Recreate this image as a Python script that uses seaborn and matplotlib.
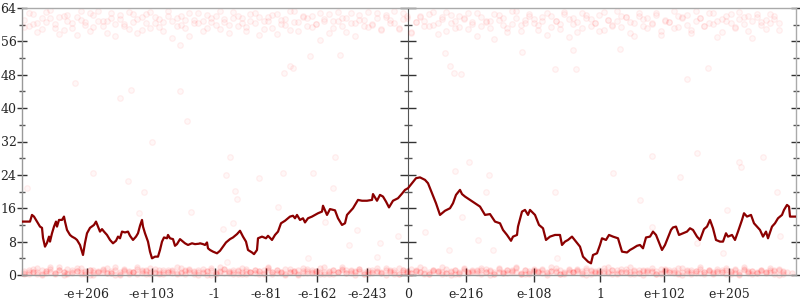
import numpy as np
import pandas as pd
import seaborn as sns
import matplotlib
matplotlib.use("Agg")
import matplotlib.pyplot as plt
from matplotlib.ticker import MultipleLocator

# ---------------- data ----------------
# x = ordered bucket index (0 = zero), y = value
line_x = [-386, -378, -376, -374, -371, -368, -366, -365, -363, -361, -359, -358, -356, -354, -352, -351,
          -349, -346, -344, -343, -341, -338, -336, -333, -331, -328, -326, -325, -323, -321, -318, -314,
          -312, -310, -308, -306, -304, -301, -298, -295, -292, -290, -288, -286, -283, -280, -278, -275,
          -272, -270, -268, -266, -265, -263, -260, -258, -256, -253, -250, -248, -246, -244, -241, -240,
          -238, -235, -233, -231, -228, -225, -223, -220, -216, -213, -209, -208, -205, -203, -201, -200,
          -198, -195, -191, -188, -185, -182, -178, -175, -171, -168, -165, -162, -160, -156, -154, -151,
          -150, -146, -142, -140, -136, -133, -130, -127, -123, -118, -115, -113, -111, -108, -105, -103,
          -100, -96, -93, -90, -86, -85, -81, -78, -73, -70, -66, -63, -61, -58, -55, -50, -46, -41, -36,
          -35, -31, -28, -25, -22, -19, -15, -10, -6, -3, 0, 4, 8, 12, 17, 20, 24, 28, 32, 37, 42, 45, 48,
          52, 54, 57, 62, 67, 72, 77, 82, 87, 92, 95, 99, 103, 105, 109, 110, 114, 117, 120, 122, 127, 131,
          135, 138, 142, 147, 152, 154, 157, 160, 164, 168, 172, 175, 180, 183, 185, 189, 192, 194, 198,
          201, 205, 210, 212, 214, 219, 222, 225, 229, 232, 235, 238, 242, 245, 248, 250, 254, 257, 259,
          263, 265, 268, 271, 275, 279, 282, 285, 289, 292, 296, 299, 302, 305, 308, 312, 315, 318, 320,
          324, 327, 330, 334, 336, 339, 343, 346, 349, 352, 355, 358, 360, 364, 367, 370, 374, 376, 379,
          381, 382, 388]
line_y = [12.8, 12.8, 14.4, 14.0, 12.8, 11.6, 11.3, 8.9, 6.8, 7.7, 9.2, 8.0, 10.0, 11.6, 12.8, 11.6,
          13.2, 13.2, 14.0, 12.8, 10.8, 9.6, 9.2, 8.8, 8.4, 7.2, 5.6, 4.8, 7.7, 10.0, 11.3, 12.0,
          12.8, 11.6, 10.4, 11.0, 10.4, 9.6, 8.4, 7.6, 8.2, 9.2, 8.8, 10.4, 10.2, 10.4, 9.4, 8.4,
          9.2, 10.0, 11.8, 13.2, 11.6, 10.0, 8.0, 5.6, 4.0, 4.4, 4.4, 6.0, 8.0, 9.0, 8.8, 9.6,
          8.8, 8.6, 7.0, 7.4, 8.6, 8.0, 7.6, 7.2, 7.6, 7.4, 7.5, 7.6, 7.4, 7.2, 7.8, 6.4,
          6.0, 5.6, 5.2, 5.8, 6.8, 7.8, 8.6, 9.0, 9.8, 10.6, 9.2, 8.0, 6.0, 5.4, 5.0, 6.0,
          8.8, 9.2, 8.8, 9.4, 8.4, 9.6, 10.4, 12.4, 13.0, 14.0, 14.2, 13.6, 14.4, 13.2, 13.6, 12.6,
          13.6, 14.0, 14.4, 14.8, 15.2, 16.6, 14.4, 15.8, 15.5, 13.6, 12.0, 12.4, 14.4, 15.2, 16.0, 18.0,
          17.8, 17.8, 18.0, 19.4, 17.8, 19.2, 18.8, 17.6, 16.2, 17.8, 18.4, 19.5, 20.4, 20.8, 22.0, 23.2,
          23.4, 22.8, 22.0, 19.6, 17.2, 14.4, 15.4, 16.0, 17.2, 19.2, 20.4, 19.4, 18.8, 18.0, 17.2, 16.4,
          14.4, 14.6, 12.8, 12.4, 10.8, 9.6, 8.2, 9.2, 9.6, 11.6, 15.2, 15.6, 14.4, 15.6, 14.4, 12.0,
          11.2, 8.4, 9.2, 9.6, 9.6, 7.2, 8.0, 8.4, 9.2, 8.0, 6.8, 4.4, 3.2, 2.8, 4.8, 5.2, 7.2, 8.8,
          8.4, 9.6, 9.2, 8.8, 7.2, 5.6, 5.4, 6.0, 6.4, 7.0, 7.2, 6.4, 9.0, 9.2, 10.4, 9.6, 8.4, 6.0,
          7.2, 8.4, 10.8, 11.4, 11.6, 9.6, 10.0, 10.4, 11.2, 10.8, 9.2, 8.4, 11.0, 11.6, 13.2, 11.2,
          8.4, 8.0, 8.0, 10.0, 9.2, 9.6, 8.4, 10.4, 13.2, 14.8, 14.0, 14.4, 12.4, 11.6, 10.8, 9.2,
          10.4, 8.8, 11.6, 12.4, 13.6, 14.4, 15.6, 16.8, 16.4, 14.0, 14.0]

band_x = [-384, -379, -375, -371, -366, -362, -358, -353, -349, -344, -341, -336, -331, -327, -323, -318,
          -315, -310, -305, -301, -297, -293, -288, -284, -279, -275, -271, -266, -262, -258, -253, -249,
          -245, -240, -236, -231, -227, -223, -219, -214, -210, -205, -201, -197, -192, -188, -184, -179,
          -175, -170, -166, -162, -158, -153, -149, -144, -140, -136, -131, -127, -123, -118, -114, -110,
          -105, -101, -96, -92, -88, -84, -79, -75, -70, -66, -62, -57, -53, -49, -44, -40, -36, -31, -27,
          -22, -18, -14, -9, -5, -1, 3, 8, 12, 16, 21, 25, 30, 34, 38, 43, 47, 51, 56, 60, 64, 69, 73, 78,
          82, 86, 91, 95, 99, 104, 108, 113, 117, 121, 126, 130, 134, 139, 143, 148, 152, 156, 161, 165,
          169, 174, 178, 183, 187, 191, 196, 200, 204, 209, 213, 218, 222, 226, 231, 235, 239, 244, 248,
          253, 257, 261, 266, 270, 274, 279, 283, 288, 292, 296, 301, 305, 309, 314, 318, 323, 327, 331,
          336, 340, 344, 349, 353, 358, 362, 366, 371, 375, 379, 384]

top_y1 = [61.2, 59.8, 62.5, 60.4, 58.9, 63.1, 61.7, 60.2, 57.8, 62.0, 60.9, 59.3, 61.8, 63.4, 60.6, 58.4,
          62.3, 61.0, 59.6, 60.8, 62.9, 57.2, 61.4, 60.1, 59.0, 62.6, 61.3, 58.7, 60.5, 63.0, 61.9, 59.4,
          60.7, 62.2, 56.8, 61.6, 60.0, 59.2, 62.8, 61.1, 60.3, 58.5, 62.4, 61.5, 59.9, 63.2, 60.6, 58.1,
          61.7, 62.1, 60.4, 59.5, 61.0, 62.7, 57.6, 60.9, 61.8, 59.1, 62.5, 60.2, 61.4, 58.8, 63.3, 60.7,
          61.9, 59.7, 62.0, 60.1, 56.4, 61.3, 62.6, 59.3, 60.8, 61.6, 58.3, 62.9, 60.5, 61.2, 59.8, 63.0,
          60.0, 61.7, 58.9, 62.3, 61.1, 60.4, 59.0, 62.8, 61.5, 57.9, 60.6, 62.2, 61.0, 59.6, 63.1, 60.3,
          61.8, 58.6, 62.4, 60.9, 59.4, 61.4, 62.7, 60.1, 57.4, 61.9, 60.7, 59.2, 62.5, 61.2, 60.0, 58.2,
          63.2, 61.6, 59.9, 60.5, 62.1, 61.3, 58.7, 60.8, 62.9, 59.5, 61.0, 60.2, 62.6, 57.0, 61.7, 60.6,
          59.1, 62.3, 61.4, 60.4, 58.4, 63.0, 61.1, 59.8, 60.9, 62.0, 61.8, 58.0, 60.3, 62.8, 59.6, 61.5,
          60.1, 62.4, 57.5, 61.2, 60.7, 59.3, 62.2, 61.9, 60.0, 58.8, 63.3, 61.6, 59.7, 60.5, 62.7, 61.0,
          58.3, 60.8, 62.5, 59.4, 61.3, 60.2, 62.1, 56.9, 61.8, 60.6, 59.0, 62.6, 61.4, 60.3]
top_y2 = [59.4, 62.8, 60.1, 58.2, 61.5, 60.7, 63.5, 59.1, 61.9, 58.8, 62.4, 60.3, 57.5, 61.1, 60.0, 62.7,
          59.5, 63.2, 60.8, 58.0, 61.6, 60.2, 62.3, 59.7, 63.0, 60.6, 57.9, 61.8, 62.5, 59.2, 60.4, 61.3,
          58.6, 63.4, 60.9, 59.8, 62.0, 61.2, 57.3, 60.5, 62.9, 61.0, 59.3, 60.7, 62.2, 58.9, 61.4, 60.0,
          63.1, 59.6, 61.7, 58.4, 62.6, 60.3, 61.9, 59.0, 60.8, 62.4, 57.7, 61.1, 59.9, 63.3, 60.6, 58.5,
          62.1, 61.5, 59.4, 60.2, 62.8, 61.0, 58.1, 60.9, 63.0, 59.7, 61.6, 60.4, 57.2, 62.3, 61.2, 59.5,
          60.1, 62.7, 58.7, 61.8, 60.5, 63.2, 59.2, 61.3, 62.0, 58.3, 60.7, 61.9, 59.8, 62.5, 60.0, 57.8,
          61.4, 63.1, 60.3, 59.1, 62.2, 61.7, 58.9, 60.6, 62.9, 59.6, 61.0, 60.8, 56.6, 62.4, 61.5, 59.3,
          60.2, 63.4, 58.5, 61.1, 62.6, 60.4, 59.9, 61.8, 57.6, 62.0, 60.9, 59.0, 63.0, 61.3, 60.1, 58.2,
          62.7, 61.6, 59.7, 60.5, 62.3, 58.8, 61.2, 60.0, 63.2, 59.4, 61.9, 60.7, 57.4, 62.1, 61.4, 59.2,
          60.3, 62.8, 58.6, 61.0, 60.6, 63.3, 59.5, 61.7, 62.4, 58.0, 60.8, 61.5, 59.8, 62.9, 60.2, 57.1,
          61.3, 62.2, 60.4, 59.3, 63.1, 61.8, 58.4, 60.9, 62.5, 59.9, 61.1, 60.5, 62.0, 58.7]
bot_y1 = [0.4, 1.2, 0.7, 1.6, 0.2, 0.9, 1.4, 0.5, 1.9, 0.8, 0.3, 1.1, 1.7, 0.6, 1.0, 0.1, 1.3, 0.8, 1.5,
          0.4, 0.9, 1.8, 0.6, 1.2, 0.3, 0.7, 1.4, 1.0, 0.2, 1.6, 0.5, 1.1, 0.8, 1.3, 0.4, 1.9, 0.7, 0.9,
          1.5, 0.3, 1.2, 0.6, 1.0, 1.7, 0.2, 0.8, 1.4, 0.5, 1.1, 0.9, 1.6, 0.3, 0.7, 1.3, 1.0, 0.4, 1.8,
          0.6, 1.2, 0.8, 0.2, 1.5, 0.9, 1.1, 0.5, 1.4, 0.7, 1.0, 1.7, 0.3, 0.8, 1.3, 0.6, 1.9, 0.4, 1.1,
          0.9, 1.5, 0.2, 0.7, 1.2, 1.0, 0.5, 1.6, 0.8, 1.3, 0.3, 1.1, 0.6, 1.4, 0.9, 1.8, 0.4, 0.7, 1.2,
          1.0, 0.2, 1.5, 0.8, 1.1, 0.5, 1.7, 0.6, 1.3, 0.9, 0.3, 1.4, 1.0, 0.7, 1.6, 0.4, 1.2, 0.8, 1.9,
          0.5, 1.1, 0.2, 1.5, 0.9, 1.3, 0.6, 1.0, 1.7, 0.3, 0.8, 1.4, 0.7, 1.2, 0.4, 1.6, 1.0, 0.5, 1.1,
          0.9, 1.8, 0.2, 1.3, 0.6, 1.5, 0.8, 1.0, 0.4, 1.2, 0.7, 1.7, 0.3, 1.4, 0.9, 1.1, 0.5, 1.6, 0.8,
          1.3, 0.2, 1.0, 1.9, 0.6, 1.2, 0.4, 1.5, 0.7, 1.1, 0.9, 1.4, 0.3, 1.8, 0.8, 1.0, 0.5, 1.3, 0.6,
          1.6, 0.2, 1.2, 0.9]
bot_y2 = [1.0, 0.3, 1.5, 0.8, 1.2, 0.5, 1.8, 0.2, 1.1, 0.7, 1.4, 0.4, 0.9, 1.6, 0.6, 1.3, 0.1, 1.0, 0.8,
          1.7, 0.5, 1.2, 0.3, 1.4, 0.9, 0.6, 1.9, 0.4, 1.1, 0.7, 1.5, 0.2, 1.3, 0.8, 1.0, 0.5, 1.6, 0.3,
          1.2, 0.9, 0.6, 1.4, 0.1, 1.1, 0.7, 1.8, 0.4, 1.0, 0.8, 1.3, 0.2, 1.5, 0.6, 1.2, 0.9, 0.3, 1.7,
          0.7, 1.1, 0.4, 1.4, 0.8, 1.0, 0.2, 1.6, 0.5, 1.3, 0.9, 0.6, 1.9, 0.3, 1.2, 0.7, 1.5, 0.4, 1.0,
          0.8, 1.4, 0.2, 1.1, 0.6, 1.7, 0.5, 1.3, 0.9, 0.3, 1.6, 0.7, 1.0, 0.4, 1.2, 0.8, 1.5, 0.2, 1.1,
          0.6, 1.8, 0.5, 0.9, 1.3, 0.3, 1.4, 0.7, 1.0, 0.4, 1.6, 0.8, 1.2, 0.2, 1.5, 0.6, 1.1, 0.9, 1.7,
          0.3, 1.3, 0.5, 1.0, 0.8, 1.4, 0.4, 1.9, 0.7, 1.2, 0.2, 1.1, 0.6, 1.5, 0.9, 1.3, 0.3, 1.0, 0.8,
          1.6, 0.5, 1.2, 0.4, 1.4, 0.7, 1.8, 0.2, 1.1, 0.9, 1.3, 0.6, 1.0, 0.3, 1.5, 0.8, 1.2, 0.4, 1.7,
          0.5, 1.1, 0.9, 1.4, 0.2, 1.3, 0.7, 1.0, 0.6, 1.6, 0.3, 1.2, 0.8, 1.5, 0.4, 1.0, 0.7, 1.3, 0.5,
          1.1, 0.9, 1.4, 0.6]
bot_y3 = [0.3, 0.8, 0.1, 0.6, 1.1, 0.4, 0.9, 0.2, 0.7, 1.3, 0.5, 0.0, 0.8, 0.3, 1.0, 0.6, 0.2, 1.2,
          0.4, 0.7, 0.1, 0.9, 0.5, 1.4, 0.3, 0.6, 0.8, 0.2, 1.1, 0.4, 0.0, 0.7, 1.0, 0.5, 0.3, 0.9, 0.6,
          1.2, 0.1, 0.8, 0.4, 0.7, 1.3, 0.2, 0.5, 0.9, 0.3, 1.0, 0.6, 0.1, 0.8, 0.4, 1.1, 0.7, 0.2, 0.5,
          1.2, 0.3, 0.9, 0.6, 0.0, 1.0, 0.4, 0.7, 0.2, 1.3, 0.5, 0.8, 0.3, 0.6, 1.1, 0.1, 0.9, 0.4, 0.7,
          0.2, 1.0, 0.5, 0.8, 0.3, 1.2, 0.6, 0.1, 0.9, 0.4, 0.7, 1.1, 0.2, 0.5, 0.8]
bot_y4 = [0.6, 0.2, 1.0, 0.5, 0.1, 0.8, 0.3, 1.2, 0.7, 0.4, 0.0, 0.9, 0.6, 1.1, 0.2, 0.5, 0.8, 0.3,
          1.3, 0.7, 0.4, 0.1, 1.0, 0.6, 0.2, 0.9, 0.5, 1.2, 0.3, 0.8, 0.6, 0.1, 1.0, 0.4, 0.7, 0.2, 1.1,
          0.5, 0.9, 0.3, 0.6, 0.0, 0.8, 1.2, 0.4, 0.7, 0.2, 1.0, 0.5, 0.3, 0.9, 0.6, 1.3, 0.1, 0.8, 0.4,
          0.7, 0.2, 1.1, 0.5, 0.9, 0.3, 0.6, 1.0, 0.1, 0.8, 0.4, 1.2, 0.7, 0.2, 0.5, 0.9, 0.3, 1.1, 0.6,
          0.0, 0.8, 0.4, 1.0, 0.7, 0.2, 0.5, 1.3, 0.3, 0.9, 0.6, 0.1, 0.8, 0.4, 1.0]

mid_x = [-333, -277, -288, -228, -221, -256, -315, -381, -280, -264, -269, -217, -178, -182, -173, -171,
         -149, -125, -95, -73, -75, -130, -175, -185, -181, -100, -83, -51, -59, -28, -10, -31, 61, 47, 81,
         78, 54, 17, 70, 41, 85, 147, 149, 244, 205, 272, 289, 331, 333, 355, 232, 319, 369, 315, 372,
         244, 289, 37, 42, 46, 53, 147, 168, 165, 212, 114, 300, 279, -98, -124, -118, -115, -68, -228]
mid_y = [46.0, 44.4, 42.5, 44.0, 37.0, 32.0, 24.5, 20.9, 22.6, 19.9, 14.9, 15.1, 28.3, 24.0, 20.2, 18.2,
         23.3, 24.5, 24.5, 28.3, 20.9, 16.3, 12.5, 11.0, 3.1, 4.0, 12.7, 10.8, 7.2, 7.7, 9.4, 4.3, 27.0,
         25.0, 24.0, 20.0, 14.0, 10.3, 8.4, 6.0, 6.0, 20.0, 4.0, 28.5, 24.5, 23.5, 29.3, 27.0, 25.8, 28.3,
         18.0, 15.6, 20.0, 5.3, 9.4, 11.5, 7.7, 53.3, 50.0, 48.5, 48.2, 49.4, 49.4, 54.0, 54.2, 53.5, 49.7,
         47.0, 52.6, 48.5, 50.0, 49.7, 52.8, 55.2]

tick_pos = [-321, -256, -193, -142, -91, -41, 0, 58, 126, 192, 256, 321]
tick_labels = ["-e+206", "-e+103", "-1", "-e-81", "-e-162", "-e-243", "0",
               "e-216", "e-108", "1", "e+102", "e+205"]
x_min, x_max = -386, 388

# ---------------- style ----------------
sns.set_style("white")
plt.rcParams["font.family"] = ["DejaVu Serif"]
plt.rcParams["font.size"] = 9

fig = plt.figure(figsize=(8, 3), dpi=100)
ax = fig.add_axes([22 / 800, 25 / 300, 774 / 800, 267 / 300])


def pairs(xs, ys):
    xy = list(zip(xs, ys))
    return pd.DataFrame(xy, columns=["x", "y"])


faint = pd.concat([pairs(band_x, top_y1), pairs(band_x, top_y2),
                   pairs(mid_x, mid_y)], ignore_index=True)
dense = pd.concat([pairs(band_x, bot_y1), pairs(band_x, bot_y2),
                   pairs(band_x[::2], bot_y3), pairs(band_x[1::2], bot_y4)], ignore_index=True)

sns.scatterplot(data=faint, x="x", y="y", ax=ax, s=16, marker="o",
                facecolor=(1, 0, 0, 0.03), edgecolor=(1, 0.2, 0.2, 0.08),
                linewidth=0.8, legend=False, zorder=2)
sns.scatterplot(data=dense, x="x", y="y", ax=ax, s=16, marker="o",
                facecolor=(1, 0, 0, 0.09), edgecolor=(1, 0.2, 0.2, 0.07),
                linewidth=0.8, legend=False, zorder=2, clip_on=False)

line_df = pairs(line_x, line_y)
sns.lineplot(data=line_df, x="x", y="y", ax=ax, color="#8b0000", linewidth=1.6,
             estimator=None, sort=False, zorder=3)

ax.set_xlim(x_min, x_max)
ax.set_ylim(0, 64)
ax.set_xlabel("")
ax.set_ylabel("")
ax.set_xticks(tick_pos)
ax.set_xticklabels(tick_labels)
ax.yaxis.set_major_locator(MultipleLocator(8))
ax.yaxis.set_minor_locator(MultipleLocator(4))

for side, col in [("left", "#999999"), ("top", "#aaaaaa"), ("right", "#aaaaaa"), ("bottom", "#999999")]:
    ax.spines[side].set_visible(True)
    ax.spines[side].set_color(col)
    ax.spines[side].set_linewidth(1.0)

ax.tick_params(axis="y", which="major", direction="inout", length=7, width=1, color="#333333",
               left=True, right=True, labelleft=True, labelright=False, pad=0.5)
ax.tick_params(axis="y", which="minor", direction="inout", length=4, width=1, color="#555555",
               left=True, right=True)
ax.tick_params(axis="x", which="major", direction="inout", length=10, width=1, color="#333333",
               bottom=True, pad=4)

# middle vertical axis at x = 0
frac = (0 - x_min) / (x_max - x_min)
mid = ax.secondary_yaxis(frac)
mid.yaxis.set_major_locator(MultipleLocator(8))
mid.yaxis.set_minor_locator(MultipleLocator(4))
mid.spines["left"].set_color("#555555")
mid.tick_params(axis="y", which="major", direction="inout", length=12, width=1, color="#333333",
                labelleft=False)
mid.tick_params(axis="y", which="minor", direction="inout", length=6, width=1, color="#555555")

fig.savefig("out.png", dpi=100)
